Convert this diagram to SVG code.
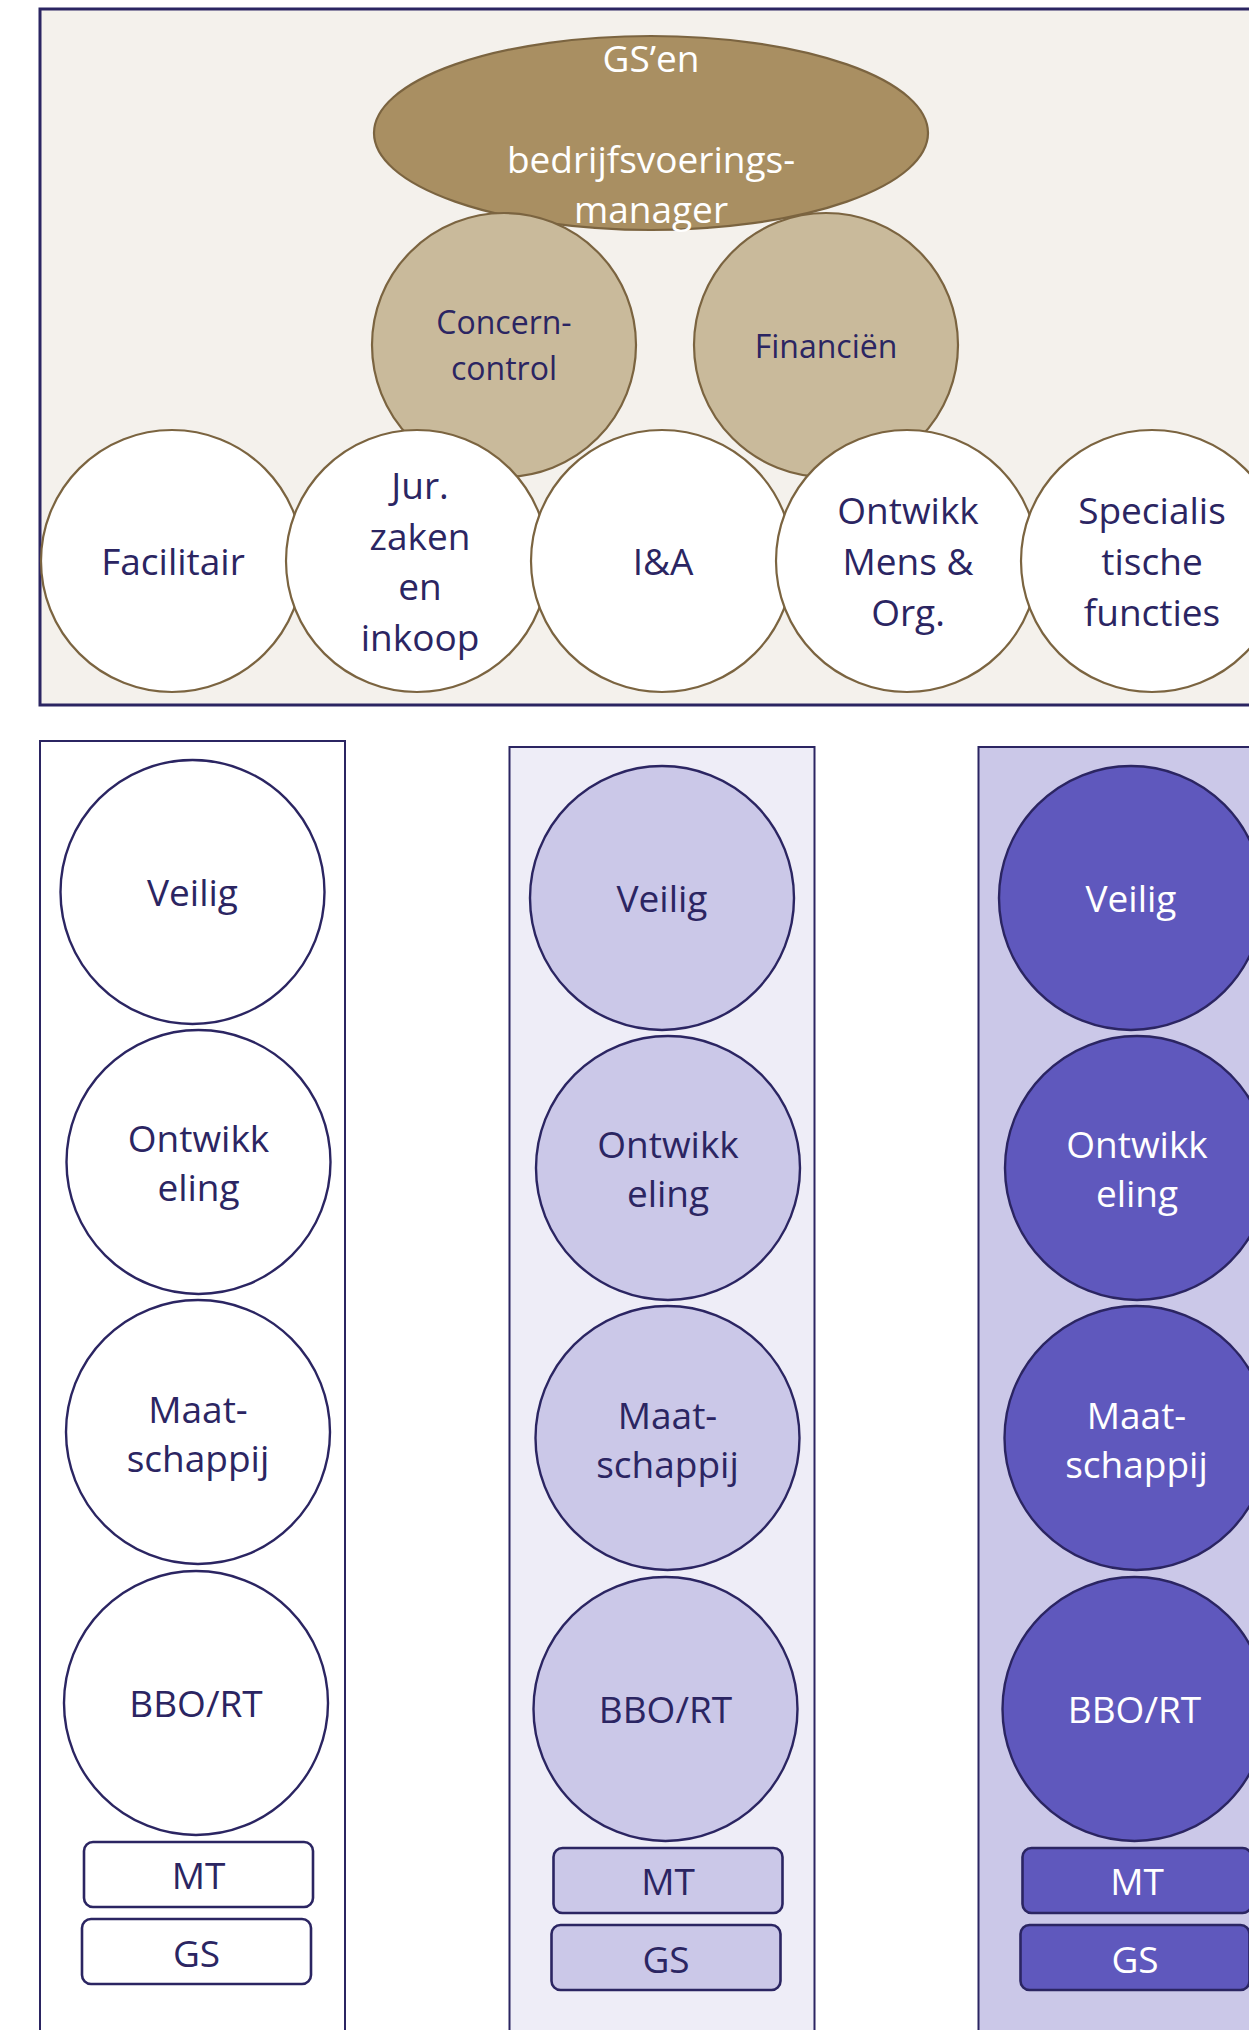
<svg xmlns="http://www.w3.org/2000/svg" width="1249" height="2030" viewBox="0 0 1249 2030">
<style>
text{font-family:"Open Sans","Noto Sans","Liberation Sans",sans-serif;text-anchor:middle;}
.t37{font-size:37px;}
.t32{font-size:32px;}
.navy{fill:#2b2562;}
.white{fill:#ffffff;}
.brown{stroke:#7b6440;stroke-width:2.2;}
.panel{fill:#f4f1ec;stroke:#2b2562;stroke-width:3;}
.top{fill:#a98f62;}
.mid{fill:#c9ba9b;}
.wc{fill:#ffffff;}
.col{stroke:#2b2562;stroke-width:2;}
.cn{stroke:#2b2562;stroke-width:2.4;}
.bx{stroke:#2b2562;stroke-width:2.6;}
.c1{fill:#ffffff;}
.c2bg{fill:#eeedf7;}
.c2{fill:#cbc8e8;}
.c3bg{fill:#cbc8e8;}
.c3{fill:#5f58bd;}
</style>
<rect width="1249" height="2030" fill="#ffffff"/>
<g id="panel-top"><rect class="panel" x="40" y="9" width="1260" height="696"/></g>
<g id="node-gsen">
<ellipse class="top brown" cx="651" cy="133" rx="277" ry="97"/>
</g>
<g id="node-concern">
<circle class="mid brown" cx="504" cy="345" r="132"/>
<text class="t32 navy" x="504" y="334">Concern-</text>
<text class="t32 navy" x="504" y="380">control</text>
</g>
<g id="node-financien">
<circle class="mid brown" cx="826" cy="345" r="132"/>
<text class="t32 navy" x="826" y="358">Financiën</text>
</g>
<g id="gsen-label">
<text class="t37 white" x="651" y="72">GS’en</text>
<text class="t37 white" x="651" y="173">bedrijfsvoerings-</text>
<text class="t37 white" x="651" y="223">manager</text>
</g>
<g id="node-facilitair">
<circle class="wc brown" cx="172" cy="561" r="131"/>
<text class="t37 navy" x="173" y="575">Facilitair</text>
</g>
<g id="node-jur">
<circle class="wc brown" cx="417" cy="561" r="131"/>
<text class="t37 navy" x="420" y="499">Jur.</text>
<text class="t37 navy" x="420" y="550">zaken</text>
<text class="t37 navy" x="420" y="600">en</text>
<text class="t37 navy" x="420" y="651">inkoop</text>
</g>
<g id="node-ia">
<circle class="wc brown" cx="662" cy="561" r="131"/>
<text class="t37 navy" x="663" y="575">I&amp;A</text>
</g>
<g id="node-ontwikk-mo">
<circle class="wc brown" cx="907" cy="561" r="131"/>
<text class="t37 navy" x="908" y="524">Ontwikk</text>
<text class="t37 navy" x="908" y="575">Mens &amp;</text>
<text class="t37 navy" x="908" y="626">Org.</text>
</g>
<g id="node-specialistisch">
<circle class="wc brown" cx="1152" cy="561" r="131"/>
<text class="t37 navy" x="1152" y="524">Specialis</text>
<text class="t37 navy" x="1152" y="575">tische</text>
<text class="t37 navy" x="1152" y="626">functies</text>
</g>

<g id="connectors"></g>

<g id="column-1">
<rect class="c1 col" x="40" y="741" width="305" height="1320"/>
<g id="c1-veilig"><circle class="c1 cn" cx="192.5" cy="892" r="132"/><text class="t37 navy" x="192.5" y="906">Veilig</text></g>
<g id="c1-ontwikkeling"><circle class="c1 cn" cx="198.5" cy="1162" r="132"/><text class="t37 navy" x="198.5" y="1152">Ontwikk</text><text class="t37 navy" x="198.5" y="1201">eling</text></g>
<g id="c1-maatschappij"><circle class="c1 cn" cx="198" cy="1432" r="132"/><text class="t37 navy" x="198" y="1423">Maat-</text><text class="t37 navy" x="198" y="1472">schappij</text></g>
<g id="c1-bbort"><circle class="c1 cn" cx="196" cy="1703" r="132"/><text class="t37 navy" x="196" y="1717">BBO/RT</text></g>
<g id="c1-mt"><rect class="c1 bx" x="84" y="1842" width="229" height="65" rx="9"/><text class="t37 navy" x="198.5" y="1889">MT</text></g>
<g id="c1-gs"><rect class="c1 bx" x="82" y="1919" width="229" height="65" rx="9"/><text class="t37 navy" x="196.5" y="1967">GS</text></g>
</g>

<g id="column-2" transform="translate(469.5,6)">
<rect class="c2bg col" x="40" y="741" width="305" height="1320"/>
<g id="c2-veilig"><circle class="c2 cn" cx="192.5" cy="892" r="132"/><text class="t37 navy" x="192.5" y="906">Veilig</text></g>
<g id="c2-ontwikkeling"><circle class="c2 cn" cx="198.5" cy="1162" r="132"/><text class="t37 navy" x="198.5" y="1152">Ontwikk</text><text class="t37 navy" x="198.5" y="1201">eling</text></g>
<g id="c2-maatschappij"><circle class="c2 cn" cx="198" cy="1432" r="132"/><text class="t37 navy" x="198" y="1423">Maat-</text><text class="t37 navy" x="198" y="1472">schappij</text></g>
<g id="c2-bbort"><circle class="c2 cn" cx="196" cy="1703" r="132"/><text class="t37 navy" x="196" y="1717">BBO/RT</text></g>
<g id="c2-mt"><rect class="c2 bx" x="84" y="1842" width="229" height="65" rx="9"/><text class="t37 navy" x="198.5" y="1889">MT</text></g>
<g id="c2-gs"><rect class="c2 bx" x="82" y="1919" width="229" height="65" rx="9"/><text class="t37 navy" x="196.5" y="1967">GS</text></g>
</g>

<g id="column-3" transform="translate(938.5,6)">
<rect class="c3bg col" x="40" y="741" width="305" height="1320"/>
<g id="c3-veilig"><circle class="c3 cn" cx="192.5" cy="892" r="132"/><text class="t37 white" x="192.5" y="906">Veilig</text></g>
<g id="c3-ontwikkeling"><circle class="c3 cn" cx="198.5" cy="1162" r="132"/><text class="t37 white" x="198.5" y="1152">Ontwikk</text><text class="t37 white" x="198.5" y="1201">eling</text></g>
<g id="c3-maatschappij"><circle class="c3 cn" cx="198" cy="1432" r="132"/><text class="t37 white" x="198" y="1423">Maat-</text><text class="t37 white" x="198" y="1472">schappij</text></g>
<g id="c3-bbort"><circle class="c3 cn" cx="196" cy="1703" r="132"/><text class="t37 white" x="196" y="1717">BBO/RT</text></g>
<g id="c3-mt"><rect class="c3 bx" x="84" y="1842" width="229" height="65" rx="9"/><text class="t37 white" x="198.5" y="1889">MT</text></g>
<g id="c3-gs"><rect class="c3 bx" x="82" y="1919" width="229" height="65" rx="9"/><text class="t37 white" x="196.5" y="1967">GS</text></g>
</g>
</svg>
